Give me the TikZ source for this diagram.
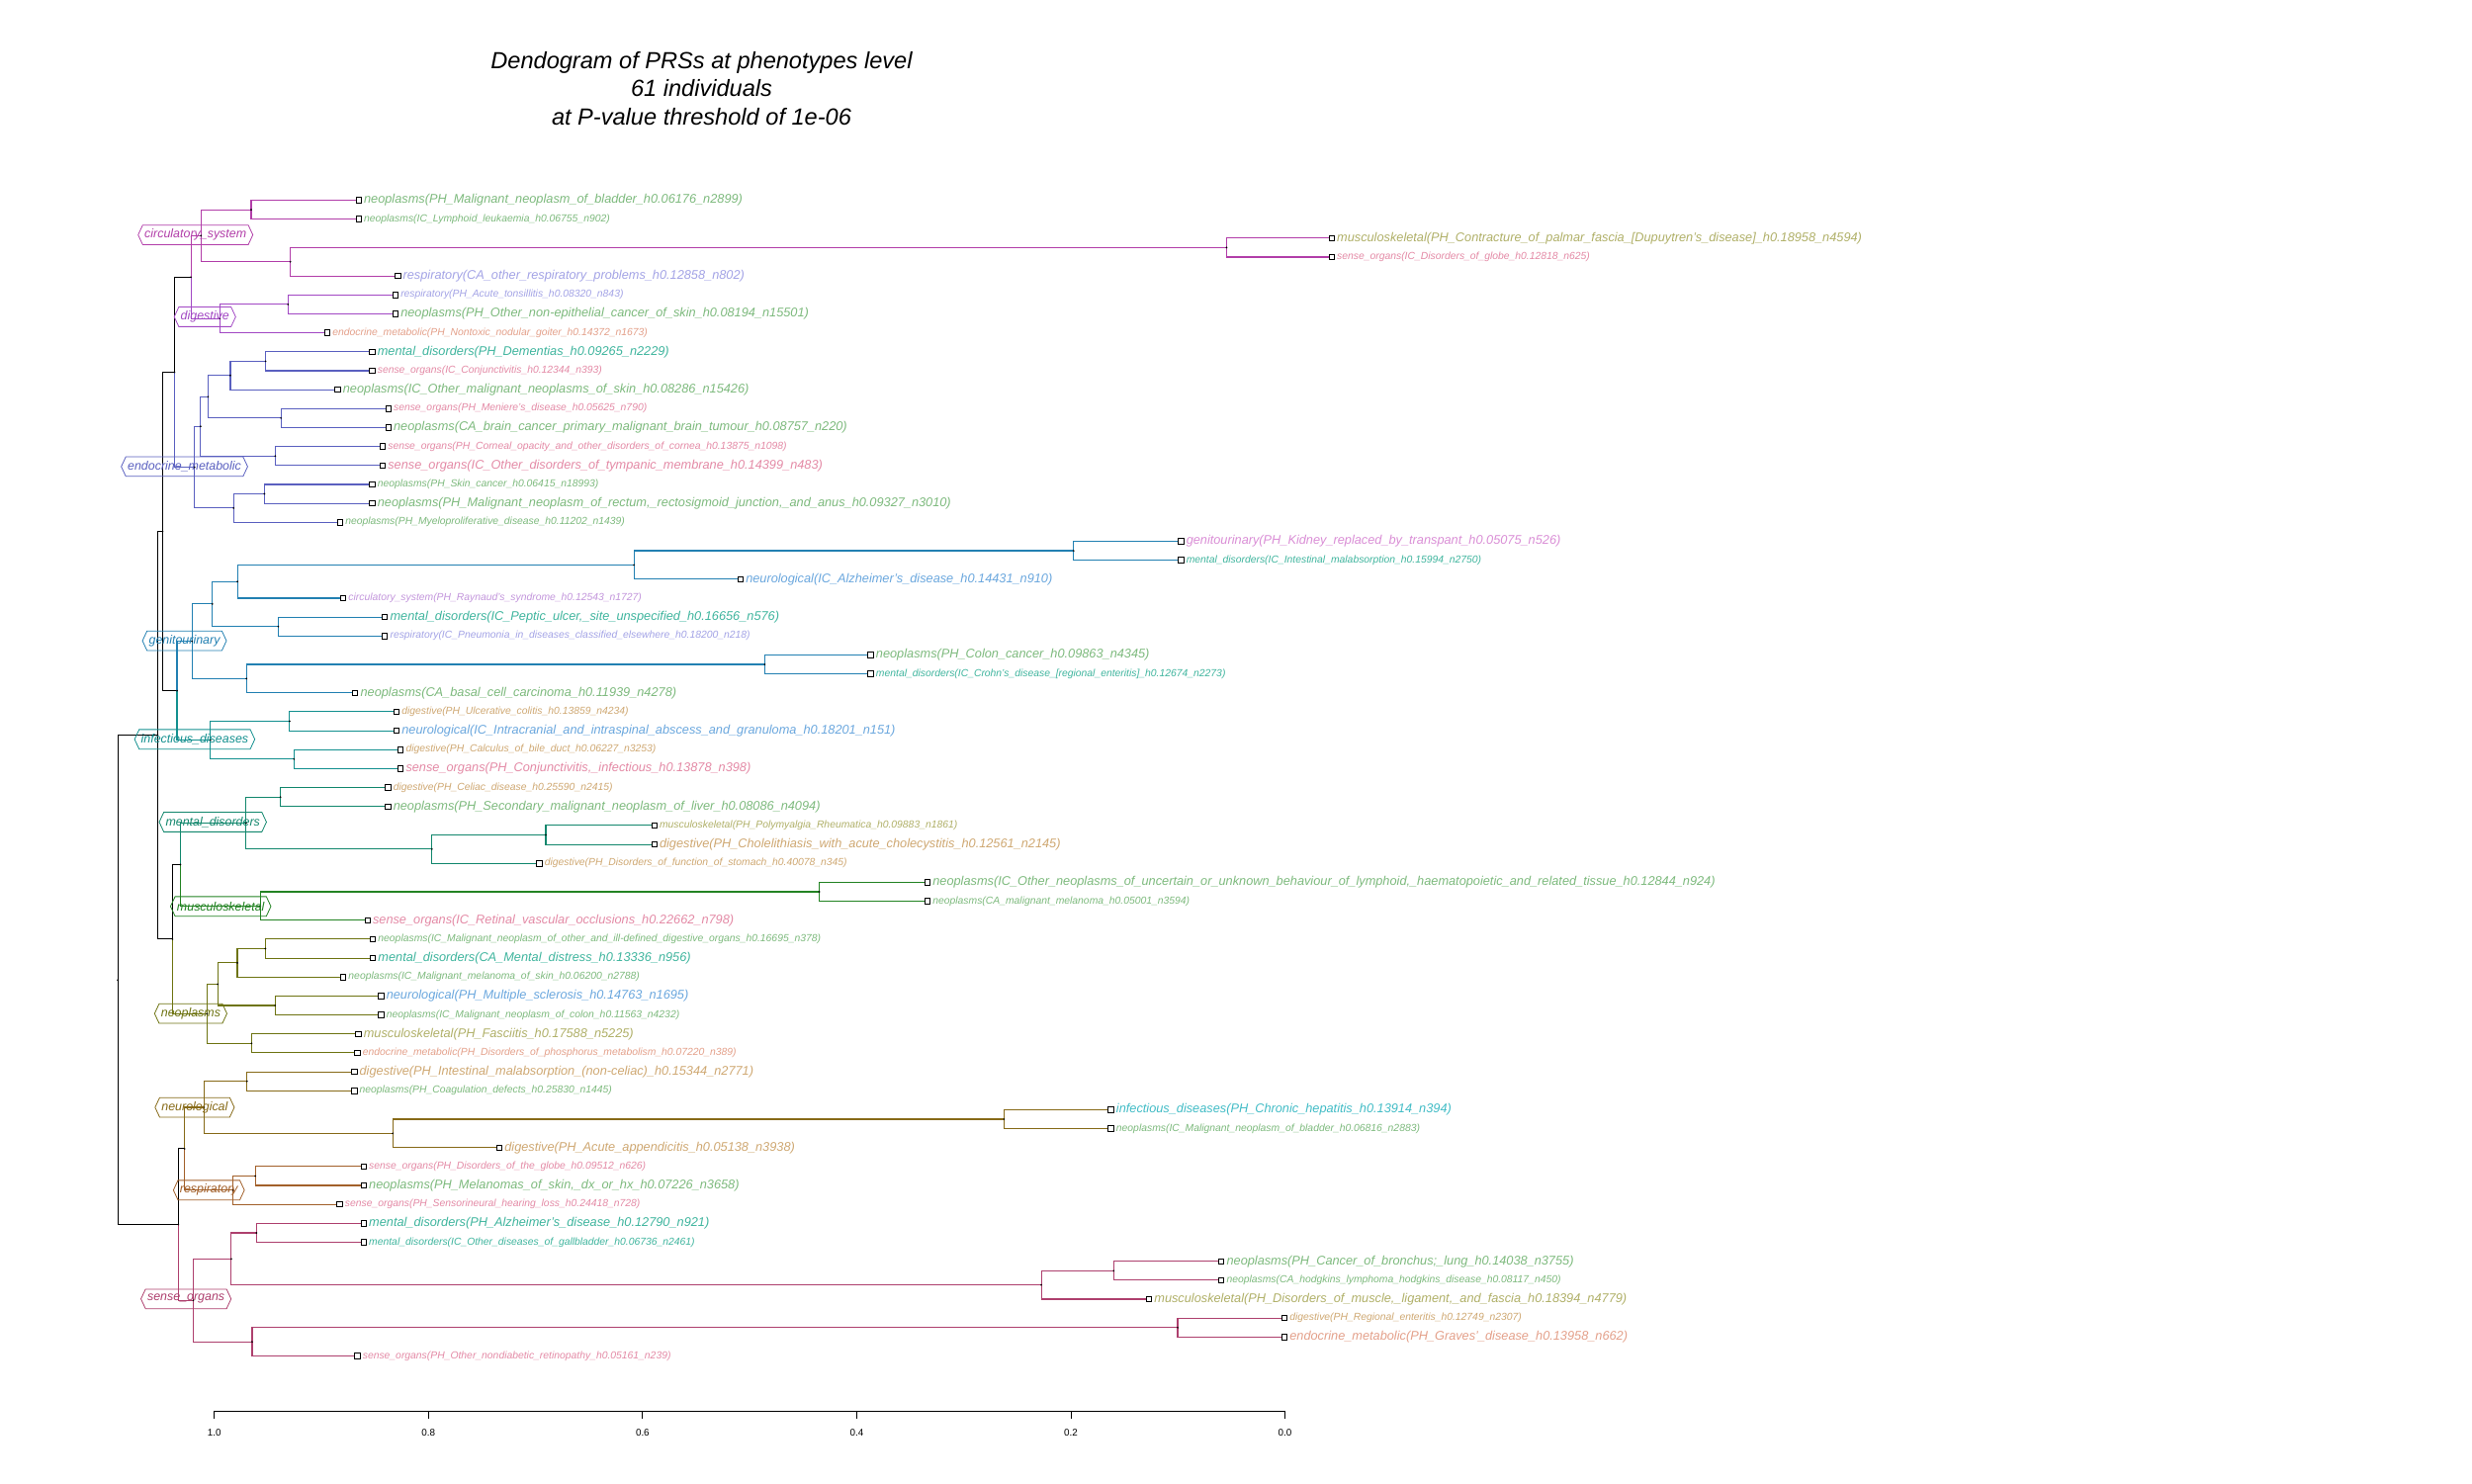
\documentclass[tikz,border=0pt]{standalone}
\usepackage{fontspec}
\setmainfont{Liberation Sans}
\usetikzlibrary{calc,shapes.symbols}
% leaf (phenotype category) colours
\definecolor{cneo}{HTML}{7DBA7D}
\definecolor{cmus}{HTML}{B0B068}
\definecolor{csen}{HTML}{E48AA6}
\definecolor{cres}{HTML}{A3A3E6}
\definecolor{cend}{HTML}{E4A08A}
\definecolor{cmen}{HTML}{3FB59E}
\definecolor{cgen}{HTML}{DA8ED6}
\definecolor{cneu}{HTML}{6AA7DE}
\definecolor{ccir}{HTML}{C396DC}
\definecolor{cdig}{HTML}{CFA872}
\definecolor{cinf}{HTML}{41BCC6}
% cluster colours
\definecolor{kcir}{HTML}{B23EA9}
\definecolor{kdig}{HTML}{A248C4}
\definecolor{kend}{HTML}{5A60C0}
\definecolor{kgen}{HTML}{2280B2}
\definecolor{kinf}{HTML}{13908F}
\definecolor{kmen}{HTML}{12876D}
\definecolor{kmus}{HTML}{238323}
\definecolor{kneo}{HTML}{6E7412}
\definecolor{kneu}{HTML}{876A18}
\definecolor{kres}{HTML}{A2602A}
\definecolor{ksen}{HTML}{AE406E}
\tikzset{
  br/.style={line width=0.7pt},
  sqbox/.style={draw=black, line width=0.55pt, minimum size=3.4pt, inner sep=0pt, fill=white},
  lbig/.style={font=\fontsize{8}{9}\selectfont\itshape, anchor=west, inner sep=0pt},
  lsmall/.style={font=\fontsize{6.5}{7}\selectfont\itshape, anchor=west, inner sep=0pt},
  clab/.style={signal, signal to=east and west, signal pointer angle=130, draw, line width=0.5pt,
    font=\fontsize{7.8}{9}\selectfont\itshape, inner xsep=1.2pt, inner ysep=1.8pt, minimum height=12.4pt},
  ticklab/.style={font=\fontsize{6.2}{7}\selectfont, inner sep=0pt},
  titlelab/.style={font=\fontsize{14.8}{18}\selectfont\itshape, align=center, inner sep=0pt},
}
\newcommand\leaf[5]{%
  \pgfmathsetmacro\lfy{127+(#1-1)*12.02}%
  \node[sqbox] (Q#1) at (#2,\lfy) {};%
  \coordinate (L#1) at (Q#1.west);%
  \node[#3, text=#4] (T#1) at ([xshift=1.2pt]Q#1.east) {#5};%
}
\newcommand\dn[4]{%
  \path ($(#3)!0.5!(#4)$) coordinate (#1m);%
  \coordinate (#1x) at (#2,0);%
  \coordinate (#1) at (#1x |- #1m);%
}
\newcommand\de[3]{\draw[br,#3] (#1) |- (#2);}
\newcommand\dd[4]{\draw[br,#4] (#2) -| (#1) |- (#3);\fill[black] (#1) circle (0.6);}
\begin{document}
\begin{tikzpicture}[x=1pt,y=-1pt]
\fill[white] (0,0) rectangle (1568,941);
\useasboundingbox (0,0) rectangle (1568,941);

\node[titlelab] (title) at (445,56) {Dendogram of PRSs at phenotypes level\\61 individuals\\at P-value threshold of 1e-06};

% ---------------- leaves ----------------
\leaf{1}{227.5}{lbig}{cneo}{neoplasms(PH\_Malignant\_neoplasm\_of\_bladder\_h0.06176\_n2899)}
\leaf{2}{227.5}{lsmall}{cneo}{neoplasms(IC\_Lymphoid\_leukaemia\_h0.06755\_n902)}
\leaf{3}{844.7}{lbig}{cmus}{musculoskeletal(PH\_Contracture\_of\_palmar\_fascia\_[Dupuytren's\_disease]\_h0.18958\_n4594)}
\leaf{4}{844.7}{lsmall}{csen}{sense\_organs(IC\_Disorders\_of\_globe\_h0.12818\_n625)}
\leaf{5}{252.3}{lbig}{cres}{respiratory(CA\_other\_respiratory\_problems\_h0.12858\_n802)}
\leaf{6}{250.8}{lsmall}{cres}{respiratory(PH\_Acute\_tonsillitis\_h0.08320\_n843)}
\leaf{7}{250.8}{lbig}{cneo}{neoplasms(PH\_Other\_non-epithelial\_cancer\_of\_skin\_h0.08194\_n15501)}
\leaf{8}{207.6}{lsmall}{cend}{endocrine\_metabolic(PH\_Nontoxic\_nodular\_goiter\_h0.14372\_n1673)}
\leaf{9}{236.1}{lbig}{cmen}{mental\_disorders(PH\_Dementias\_h0.09265\_n2229)}
\leaf{10}{236.1}{lsmall}{csen}{sense\_organs(IC\_Conjunctivitis\_h0.12344\_n393)}
\leaf{11}{214.2}{lbig}{cneo}{neoplasms(IC\_Other\_malignant\_neoplasms\_of\_skin\_h0.08286\_n15426)}
\leaf{12}{246.3}{lsmall}{csen}{sense\_organs(PH\_Meniere's\_disease\_h0.05625\_n790)}
\leaf{13}{246.3}{lbig}{cneo}{neoplasms(CA\_brain\_cancer\_primary\_malignant\_brain\_tumour\_h0.08757\_n220)}
\leaf{14}{242.7}{lsmall}{csen}{sense\_organs(PH\_Corneal\_opacity\_and\_other\_disorders\_of\_cornea\_h0.13875\_n1098)}
\leaf{15}{242.7}{lbig}{csen}{sense\_organs(IC\_Other\_disorders\_of\_tympanic\_membrane\_h0.14399\_n483)}
\leaf{16}{236.1}{lsmall}{cneo}{neoplasms(PH\_Skin\_cancer\_h0.06415\_n18993)}
\leaf{17}{236.1}{lbig}{cneo}{neoplasms(PH\_Malignant\_neoplasm\_of\_rectum,\_rectosigmoid\_junction,\_and\_anus\_h0.09327\_n3010)}
\leaf{18}{215.7}{lsmall}{cneo}{neoplasms(PH\_Myeloproliferative\_disease\_h0.11202\_n1439)}
\leaf{19}{749.1}{lbig}{cgen}{genitourinary(PH\_Kidney\_replaced\_by\_transpant\_h0.05075\_n526)}
\leaf{20}{749.1}{lsmall}{cmen}{mental\_disorders(IC\_Intestinal\_malabsorption\_h0.15994\_n2750)}
\leaf{21}{469.7}{lbig}{cneu}{neurological(IC\_Alzheimer's\_disease\_h0.14431\_n910)}
\leaf{22}{217.7}{lsmall}{ccir}{circulatory\_system(PH\_Raynaud's\_syndrome\_h0.12543\_n1727)}
\leaf{23}{244.1}{lbig}{cmen}{mental\_disorders(IC\_Peptic\_ulcer,\_site\_unspecified\_h0.16656\_n576)}
\leaf{24}{244.1}{lsmall}{cres}{respiratory(IC\_Pneumonia\_in\_diseases\_classified\_elsewhere\_h0.18200\_n218)}
\leaf{25}{552.3}{lbig}{cneo}{neoplasms(PH\_Colon\_cancer\_h0.09863\_n4345)}
\leaf{26}{552.3}{lsmall}{cmen}{mental\_disorders(IC\_Crohn's\_disease\_[regional\_enteritis]\_h0.12674\_n2273)}
\leaf{27}{225.3}{lbig}{cneo}{neoplasms(CA\_basal\_cell\_carcinoma\_h0.11939\_n4278)}
\leaf{28}{251.5}{lsmall}{cdig}{digestive(PH\_Ulcerative\_colitis\_h0.13859\_n4234)}
\leaf{29}{251.5}{lbig}{cneu}{neurological(IC\_Intracranial\_and\_intraspinal\_abscess\_and\_granuloma\_h0.18201\_n151)}
\leaf{30}{254.1}{lsmall}{cdig}{digestive(PH\_Calculus\_of\_bile\_duct\_h0.06227\_n3253)}
\leaf{31}{254.1}{lbig}{csen}{sense\_organs(PH\_Conjunctivitis,\_infectious\_h0.13878\_n398)}
\leaf{32}{246.1}{lsmall}{cdig}{digestive(PH\_Celiac\_disease\_h0.25590\_n2415)}
\leaf{33}{246.1}{lbig}{cneo}{neoplasms(PH\_Secondary\_malignant\_neoplasm\_of\_liver\_h0.08086\_n4094)}
\leaf{34}{415}{lsmall}{cmus}{musculoskeletal(PH\_Polymyalgia\_Rheumatica\_h0.09883\_n1861)}
\leaf{35}{415}{lbig}{cdig}{digestive(PH\_Cholelithiasis\_with\_acute\_cholecystitis\_h0.12561\_n2145)}
\leaf{36}{342.1}{lsmall}{cdig}{digestive(PH\_Disorders\_of\_function\_of\_stomach\_h0.40078\_n345)}
\leaf{37}{588.3}{lbig}{cneo}{neoplasms(IC\_Other\_neoplasms\_of\_uncertain\_or\_unknown\_behaviour\_of\_lymphoid,\_haematopoietic\_and\_related\_tissue\_h0.12844\_n924)}
\leaf{38}{588.3}{lsmall}{cneo}{neoplasms(CA\_malignant\_melanoma\_h0.05001\_n3594)}
\leaf{39}{233.1}{lbig}{csen}{sense\_organs(IC\_Retinal\_vascular\_occlusions\_h0.22662\_n798)}
\leaf{40}{236.5}{lsmall}{cneo}{neoplasms(IC\_Malignant\_neoplasm\_of\_other\_and\_ill-defined\_digestive\_organs\_h0.16695\_n378)}
\leaf{41}{236.5}{lbig}{cmen}{mental\_disorders(CA\_Mental\_distress\_h0.13336\_n956)}
\leaf{42}{217.7}{lsmall}{cneo}{neoplasms(IC\_Malignant\_melanoma\_of\_skin\_h0.06200\_n2788)}
\leaf{43}{241.7}{lbig}{cneu}{neurological(PH\_Multiple\_sclerosis\_h0.14763\_n1695)}
\leaf{44}{241.7}{lsmall}{cneo}{neoplasms(IC\_Malignant\_neoplasm\_of\_colon\_h0.11563\_n4232)}
\leaf{45}{227.3}{lbig}{cmus}{musculoskeletal(PH\_Fasciitis\_h0.17588\_n5225)}
\leaf{46}{226.7}{lsmall}{cend}{endocrine\_metabolic(PH\_Disorders\_of\_phosphorus\_metabolism\_h0.07220\_n389)}
\leaf{47}{224.7}{lbig}{cdig}{digestive(PH\_Intestinal\_malabsorption\_(non-celiac)\_h0.15344\_n2771)}
\leaf{48}{224.7}{lsmall}{cneo}{neoplasms(PH\_Coagulation\_defects\_h0.25830\_n1445)}
\leaf{49}{704.7}{lbig}{cinf}{infectious\_diseases(PH\_Chronic\_hepatitis\_h0.13914\_n394)}
\leaf{50}{704.7}{lsmall}{cneo}{neoplasms(IC\_Malignant\_neoplasm\_of\_bladder\_h0.06816\_n2883)}
\leaf{51}{316.7}{lbig}{cdig}{digestive(PH\_Acute\_appendicitis\_h0.05138\_n3938)}
\leaf{52}{230.7}{lsmall}{csen}{sense\_organs(PH\_Disorders\_of\_the\_globe\_h0.09512\_n626)}
\leaf{53}{230.7}{lbig}{cneo}{neoplasms(PH\_Melanomas\_of\_skin,\_dx\_or\_hx\_h0.07226\_n3658)}
\leaf{54}{215.5}{lsmall}{csen}{sense\_organs(PH\_Sensorineural\_hearing\_loss\_h0.24418\_n728)}
\leaf{55}{230.7}{lbig}{cmen}{mental\_disorders(PH\_Alzheimer's\_disease\_h0.12790\_n921)}
\leaf{56}{230.7}{lsmall}{cmen}{mental\_disorders(IC\_Other\_diseases\_of\_gallbladder\_h0.06736\_n2461)}
\leaf{57}{774.7}{lbig}{cneo}{neoplasms(PH\_Cancer\_of\_bronchus;\_lung\_h0.14038\_n3755)}
\leaf{58}{774.7}{lsmall}{cneo}{neoplasms(CA\_hodgkins\_lymphoma\_hodgkins\_disease\_h0.08117\_n450)}
\leaf{59}{728.8}{lbig}{cmus}{musculoskeletal(PH\_Disorders\_of\_muscle,\_ligament,\_and\_fascia\_h0.18394\_n4779)}
\leaf{60}{814.7}{lsmall}{cdig}{digestive(PH\_Regional\_enteritis\_h0.12749\_n2307)}
\leaf{61}{814.7}{lbig}{cend}{endocrine\_metabolic(PH\_Graves'\_disease\_h0.13958\_n662)}
\leaf{62}{226.7}{lsmall}{csen}{sense\_organs(PH\_Other\_nondiabetic\_retinopathy\_h0.05161\_n239)}

% ---------------- internal nodes ----------------
\dn{c12}{159.3}{L1}{L2}
\dn{c34}{778}{L3}{L4}
\dn{c345}{184.2}{c34}{L5}
\dn{circ}{127.5}{c12}{c345}
\dn{d67}{182.7}{L6}{L7}
\dn{dig}{139.4}{d67}{L8}
\dn{D}{121.1}{circ}{dig}
\dn{e910}{168.5}{L9}{L10}
\dn{e3}{146.1}{e910}{L11}
\dn{e1213}{178.2}{L12}{L13}
\dn{e2}{132.0}{e3}{e1213}
\dn{e1415}{174.6}{L14}{L15}
\dn{e1}{127.2}{e2}{e1415}
\dn{e1617}{167.7}{L16}{L17}
\dn{e4}{148.2}{e1617}{L18}
\dn{endo}{123.4}{e1}{e4}
\dn{C}{110.6}{D}{endo}
\dn{g1920}{681}{L19}{L20}
\dn{g3}{402.1}{g1920}{L21}
\dn{g2}{150.6}{g3}{L22}
\dn{g2324}{176.5}{L23}{L24}
\dn{g1}{134.7}{g2}{g2324}
\dn{g2526}{485.1}{L25}{L26}
\dn{g4}{156.3}{g2526}{L27}
\dn{gen}{121.8}{g1}{g4}
\dn{i2829}{183.7}{L28}{L29}
\dn{i3031}{186.5}{L30}{L31}
\dn{inf}{133.5}{i2829}{i3031}
\dn{E}{112.3}{gen}{inf}
\dn{B}{103.1}{C}{E}
\dn{m3233}{177.9}{L32}{L33}
\dn{m3435}{346.2}{L34}{L35}
\dn{m2}{274}{m3435}{L36}
\dn{men}{156.1}{m3233}{m2}
\dn{u3738}{519.7}{L37}{L38}
\dn{mus}{165.1}{u3738}{L39}
\dn{G}{114.4}{men}{mus}
\dn{n4041}{168.3}{L40}{L41}
\dn{n2}{150.5}{n4041}{L42}
\dn{n4344}{174.5}{L43}{L44}
\dn{n1}{138.1}{n2}{n4344}
\dn{n4546}{159.6}{L45}{L46}
\dn{neo}{131.3}{n1}{n4546}
\dn{F}{109.4}{G}{neo}
\dn{A}{100}{B}{F}
\dn{r4748}{156.7}{L47}{L48}
\dn{r4950}{636.9}{L49}{L50}
\dn{r2}{249.1}{r4950}{L51}
\dn{neu}{129.5}{r4748}{r2}
\dn{s5253}{161.9}{L52}{L53}
\dn{res}{147.8}{s5253}{L54}
\dn{I}{117.1}{neu}{res}
\dn{o5556}{162.7}{L55}{L56}
\dn{o5758}{706.4}{L57}{L58}
\dn{o2}{660.5}{o5758}{L59}
\dn{o1}{146.7}{o5556}{o2}
\dn{o6061}{747}{L60}{L61}
\dn{o3}{159.9}{o6061}{L62}
\dn{sen}{122.6}{o1}{o3}
\dn{H}{113.1}{I}{sen}
\dn{root}{74.7}{A}{H}

% ---------------- top-level (black) edges ----------------
\de{root}{A}{black} \de{root}{H}{black}
\de{A}{B}{black} \de{A}{F}{black}
\de{B}{C}{black} \de{B}{E}{black}
\de{C}{D}{black} \de{C}{endo}{kend}
\de{D}{circ}{kcir} \de{D}{dig}{kdig}
\de{E}{gen}{kgen} \de{E}{inf}{kinf}
\de{F}{G}{black} \de{F}{neo}{kneo}
\de{G}{men}{kmen} \de{G}{mus}{kmus}
\de{H}{I}{black} \de{H}{sen}{ksen}
\de{I}{neu}{kneu} \de{I}{res}{kres}
\foreach \p in {root,A,B,C,D,E,F,G,H,I} {\fill[black] (\p) circle (0.6);}

% ---------------- cluster edges ----------------
\dd{circ}{c12}{c345}{kcir} \dd{c12}{L1}{L2}{kcir} \dd{c345}{c34}{L5}{kcir} \dd{c34}{L3}{L4}{kcir}
\dd{dig}{d67}{L8}{kdig} \dd{d67}{L6}{L7}{kdig}
\dd{endo}{e1}{e4}{kend} \dd{e1}{e2}{e1415}{kend} \dd{e2}{e3}{e1213}{kend} \dd{e3}{e910}{L11}{kend}
\dd{e910}{L9}{L10}{kend} \dd{e1213}{L12}{L13}{kend} \dd{e1415}{L14}{L15}{kend}
\dd{e4}{e1617}{L18}{kend} \dd{e1617}{L16}{L17}{kend}
\dd{gen}{g1}{g4}{kgen} \dd{g1}{g2}{g2324}{kgen} \dd{g2}{g3}{L22}{kgen} \dd{g3}{g1920}{L21}{kgen}
\dd{g1920}{L19}{L20}{kgen} \dd{g2324}{L23}{L24}{kgen} \dd{g4}{g2526}{L27}{kgen} \dd{g2526}{L25}{L26}{kgen}
\dd{inf}{i2829}{i3031}{kinf} \dd{i2829}{L28}{L29}{kinf} \dd{i3031}{L30}{L31}{kinf}
\dd{men}{m3233}{m2}{kmen} \dd{m3233}{L32}{L33}{kmen} \dd{m2}{m3435}{L36}{kmen} \dd{m3435}{L34}{L35}{kmen}
\dd{mus}{u3738}{L39}{kmus} \dd{u3738}{L37}{L38}{kmus}
\dd{neo}{n1}{n4546}{kneo} \dd{n1}{n2}{n4344}{kneo} \dd{n2}{n4041}{L42}{kneo} \dd{n4041}{L40}{L41}{kneo}
\dd{n4344}{L43}{L44}{kneo} \dd{n4546}{L45}{L46}{kneo}
\dd{neu}{r4748}{r2}{kneu} \dd{r4748}{L47}{L48}{kneu} \dd{r2}{r4950}{L51}{kneu} \dd{r4950}{L49}{L50}{kneu}
\dd{res}{s5253}{L54}{kres} \dd{s5253}{L52}{L53}{kres}
\dd{sen}{o1}{o3}{ksen} \dd{o1}{o5556}{o2}{ksen} \dd{o5556}{L55}{L56}{ksen} \dd{o2}{o5758}{L59}{ksen}
\dd{o5758}{L57}{L58}{ksen} \dd{o3}{o6061}{L62}{ksen} \dd{o6061}{L60}{L61}{ksen}

% ---------------- cluster labels ----------------
\node[clab, draw=kcir, text=kcir] (lcir) at (124,149) {circulatory\_system};
\node[clab, draw=kdig, text=kdig] (ldig) at (130,201) {digestive};
\node[clab, draw=kend, text=kend] (lend) at (117,296) {endocrine\_metabolic};
\node[clab, draw=kgen, text=kgen] (lgen) at (117,406.5) {genitourinary};
\node[clab, draw=kinf, text=kinf] (linf) at (123.5,469) {infectious\_diseases};
\node[clab, draw=kmen, text=kmen] (lmen) at (135,521.5) {mental\_disorders};
\node[clab, draw=kmus, text=kmus] (lmus) at (140,575) {musculoskeletal};
\node[clab, draw=kneo, text=kneo] (lneo) at (121,643) {neoplasms};
\node[clab, draw=kneu, text=kneu] (lneu) at (123.5,702.5) {neurological};
\node[clab, draw=kres, text=kres] (lres) at (132.5,755) {respiratory};
\node[clab, draw=ksen, text=ksen] (lsen) at (118,824) {sense\_organs};

% ---------------- axis ----------------
\coordinate (ax0) at (136,895);
\coordinate (ax1) at (815,895);
\draw[line width=0.6pt] (ax0) -- (ax1);
\foreach \v/\i in {1.0/0,0.8/1,0.6/2,0.4/3,0.2/4,0.0/5} {
  \coordinate (tk\i) at ($(ax0)!\i/5!(ax1)$);
  \draw[line width=0.5pt] (tk\i) -- ++(0,5);
  \node[ticklab] (tl\i) at ($(tk\i)+(0,14)$) {\v};
}
\end{tikzpicture}
\end{document}
